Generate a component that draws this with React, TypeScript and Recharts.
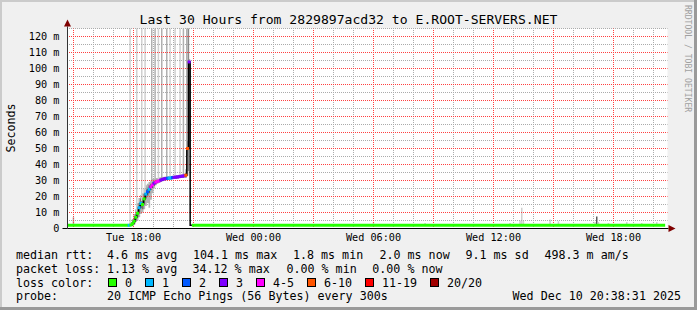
import React from "react";
import {
  ComposedChart,
  XAxis,
  YAxis,
  CartesianGrid,
  Line,
  Area,
  Bar,
  Cell,
  Scatter,
  ReferenceLine,
  ReferenceDot,
} from "recharts";

const FONT = "'DejaVu Sans Mono', 'Liberation Mono', monospace";

// ---------- time helpers ----------
const dayOffset: Record<string, number> = { Tue: 0, Wed: 24 };
const toHours = (s: string) => {
  const [d, hm] = s.split(" ");
  const [h, m] = hm.split(":").map(Number);
  return dayOffset[d] + h + m / 60;
};

// ---------- axes ----------
const X_DOMAIN: [number, number] = [14.7, 44.7]; // Tue 14:42 .. Wed 20:42
const Y_DOMAIN: [number, number] = [0, 125];
const xTicks = [18, 24, 30, 36, 42];
const xTickLabels = ["Tue 18:00", "Wed 00:00", "Wed 06:00", "Wed 12:00", "Wed 18:00"];
const yTicks = [0, 10, 20, 30, 40, 50, 60, 70, 80, 90, 100, 110, 120];
const yTickLabels = ["0", "10 m", "20 m", "30 m", "40 m", "50 m", "60 m", "70 m", "80 m", "90 m", "100 m", "110 m", "120 m"];

const range = (a: number, b: number, s: number) => {
  const out: number[] = [];
  for (let v = a; v <= b + 1e-9; v += s) out.push(v);
  return out;
};
const hourGrid = range(15, 44, 1).filter((h) => (h - 15) % 3 !== 0);
const majorHourGrid = range(15, 42, 3);
const minorMsGrid = range(5, 125, 10);
const majorMsGrid = range(10, 120, 10);

// ---------- loss colours ----------
const lossLabels = ["0", "1", "2", "3", "4-5", "6-10", "11-19", "20/20"];
const lossColors = ["#26ff00", "#00b8ff", "#0059ff", "#7e00ff", "#ff00ff", "#ff5500", "#ff0000", "#a10000"];

// ---------- flat 0%-loss median segments (ms) ----------
const greenTimesA = ["Tue 14:42", "Tue 15:30", "Tue 16:30", "Tue 17:45"];
const greenMsA = [2.0, 2.0, 2.0, 2.0];
const greenTimesB = ["Tue 20:55", "Tue 23:00", "Wed 03:00", "Wed 07:00", "Wed 11:00", "Wed 15:00", "Wed 19:00", "Wed 20:35"];
const greenMsB = [2.0, 2.0, 2.0, 2.0, 2.0, 2.0, 2.0, 2.0];

// ---------- active period (Tue), 5-minute steps ----------
const activeTimes = [
  "17:45", "17:50", "17:55", "18:00", "18:05", "18:10", "18:15", "18:20", "18:25", "18:30",
  "18:35", "18:40", "18:45", "18:50", "18:55", "19:00", "19:05", "19:10", "19:15", "19:20",
  "19:25", "19:30", "19:35", "19:40", "19:45", "19:50", "19:55", "20:00", "20:05", "20:10",
  "20:15", "20:20", "20:25", "20:30", "20:35", "20:40", "20:45", "20:50", "20:55",
];
const medianMs = [
  2.0, 2.0, 2.2, 3.0, 4.5, 7.0, 9.5, 13.0, 15.7, 15.0,
  18.5, 21.5, 23.0, 24.5, 26.0, 27.2, 28.3, 29.0, 29.5, 29.8,
  30.3, 30.7, 31.0, 31.2, 31.4, 31.5, 31.6, 31.8, 32.0, 32.1,
  32.2, 32.4, 32.6, 32.7, 32.9, 33.3, 50.0, 104.1, 2.0,
];
const lossIdx = [
  0, 1, 0, 0, 0, 0, 0, 1, 1, 0,
  0, 1, 2, 1, 4, 4, 3, 4, 4, 4,
  3, 3, 3, 3, 2, 1, 1, 2, 3, 3,
  3, 3, 3, 3, 3, 5, 5, 3, 0,
];
const smokeLo: (number | null)[] = [
  null, 1.8, 1.8, 2.0, 2.5, 4.0, 5.0, 7.0, 9.0, 10.0,
  12.0, 14.0, 16.0, 13.0, 18.0, 22.0, 25.0, 27.0, 28.0, 28.5,
  29.0, 29.5, 30.0, 30.2, 30.4, 30.5, 30.6, 30.8, 31.0, 31.1,
  31.2, 31.4, 31.6, 31.7, 31.9, 32.0, 33.0, 50.0, null,
];
const smokeHi: (number | null)[] = [
  null, 3.0, 4.0, 6.0, 9.0, 12.0, 16.0, 19.0, 21.0, 22.0,
  25.0, 27.0, 28.0, 29.0, 30.0, 31.0, 31.0, 31.5, 31.5, 31.8,
  32.0, 32.2, 32.4, 32.5, 32.6, 32.7, 32.8, 33.0, 33.2, 33.3,
  33.4, 33.6, 33.8, 34.0, 34.2, 37.0, 55.0, 106.0, null,
];
const coreSpread: (number | null)[] = [
  null, 0.4, 0.6, 1.2, 1.8, 2.2, 2.5, 2.8, 3.0, 3.0,
  3.0, 2.8, 2.5, 2.5, 2.0, 1.8, 1.5, 1.2, 1.0, 0.9,
  0.9, 0.8, 0.8, 0.8, 0.8, 0.8, 0.8, 0.8, 0.8, 0.8,
  0.8, 0.8, 0.8, 0.8, 0.8, 1.5, 5.0, null, null,
];

// ---------- individual smoke bars (ms range, shade) ----------
const barTimes = [
  "Tue 15:00",
  "Tue 17:50", "Tue 18:10", "Tue 18:25", "Tue 18:35", "Tue 18:55", "Tue 19:05", "Tue 19:15", "Tue 19:25",
  "Tue 19:40", "Tue 19:50", "Tue 20:05", "Tue 20:20", "Tue 20:30", "Tue 20:40", "Tue 20:45",
  "Wed 06:00", "Wed 08:35", "Wed 12:50", "Wed 13:20", "Wed 13:25", "Wed 13:30", "Wed 14:50", "Wed 15:15",
  "Wed 17:05", "Wed 17:10", "Wed 17:15", "Wed 17:45", "Wed 18:40", "Wed 19:25", "Wed 20:10",
];
const barLo = [
  2,
  2.5, 8, 17, 20, 27, 29, 30, 31,
  32, 32, 33, 33, 34, 34, 36,
  2, 2, 2, 2, 2, 2, 2, 2,
  2, 2, 2, 2, 2, 2, 2,
];
const barHi = [
  7,
  150, 150, 150, 150, 150, 150, 150, 150,
  150, 150, 150, 150, 150, 150, 150,
  3.8, 3.5, 3.5, 5, 13, 5, 5.6, 4.6,
  4, 7.5, 4, 3.5, 4, 3.5, 4,
];
const barShade = [
  "M",
  "L", "L", "L", "L", "M", "M", "L", "M",
  "M", "L", "L", "L", "M", "M", "D",
  "L", "L", "L", "L", "L", "L", "L", "L",
  "L", "X", "L", "L", "L", "L", "L",
];
const shadeColors: Record<string, string> = { L: "#d0d0d0", M: "#b0b0b0", D: "#8a8a8a", X: "#5a5a5a" };

// ---------- legend text ----------
const title = "Last 30 Hours from 2829897acd32 to E.ROOT-SERVERS.NET";
const rttStats = ["4.6 ms avg", "104.1 ms max", "1.8 ms min", "2.0 ms now", "9.1 ms sd", "498.3 m am/s"];
const lossStats = ["1.13 % avg", "34.12 % max", "0.00 % min", "0.00 % now"];
const probeText = "20 ICMP Echo Pings (56 Bytes) every 300s";
const stampText = "Wed Dec 10 20:38:31 2025";

// layout positions of legend pieces
const rttX = [107, 193, 293, 379.5, 465.5, 544.5];
const lossX = [107, 192.5, 286.5, 372.3];
const boxX = [108, 145, 182, 219, 256, 307, 365, 430];

// ---------- build data ----------
const rowsByT = new Map<number, any>();
const getRow = (t: number) => {
  if (!rowsByT.has(t)) rowsByT.set(t, { t });
  return rowsByT.get(t);
};
activeTimes.forEach((s, i) => {
  const r = getRow(toHours("Tue " + s));
  if (smokeLo[i] != null && smokeHi[i] != null) r.smoke = [smokeLo[i], smokeHi[i]];
  if (coreSpread[i] != null) r.core = [medianMs[i] - (coreSpread[i] as number), medianMs[i] + (coreSpread[i] as number)];
});
barTimes.forEach((s, i) => {
  const r = getRow(toHours(s));
  r.bar = [barLo[i], barHi[i]];
  r.shade = barShade[i];
});
const chartData = Array.from(rowsByT.values()).sort((a, b) => a.t - b.t);

const medRows = activeTimes.map((s, i) => ({ t: toHours("Tue " + s), med: medianMs[i], loss: lossIdx[i] }));
const markerRows = medRows.slice(1, medRows.length - 1);
const greenA = greenTimesA.map((s, i) => ({ t: toHours(s), med: greenMsA[i] }));
const greenB = greenTimesB.map((s, i) => ({ t: toHours(s), med: greenMsB[i] }));

// ---------- components ----------
const XTick = (props: any) => {
  const { x, y, payload } = props;
  const i = xTicks.indexOf(payload.value);
  return (
    <text x={x} y={y + 12.8} textAnchor="middle" fontFamily={FONT} fontSize={10.2} fill="#000">
      {xTickLabels[i]}
    </text>
  );
};
const YTick = (props: any) => {
  const { x, y, payload } = props;
  const i = yTicks.indexOf(payload.value);
  return (
    <text x={x} y={y + 3.7} textAnchor="end" fontFamily={FONT} fontSize={10.2} fill="#000">
      {yTickLabels[i]}
    </text>
  );
};
const Marker = (props: any) => {
  const { cx, cy, payload } = props;
  if (cx == null || cy == null) return null;
  return <rect x={cx - 2.5} y={cy - 1.5} width={3} height={3} fill={lossColors[payload.loss]} />;
};
const ArrowRight = (props: any) => (
  <polygon points={`${props.cx},${props.cy - 3.5} ${props.cx + 7},${props.cy} ${props.cx},${props.cy + 3.5}`} fill="#7f0000" />
);
const ArrowUp = (props: any) => (
  <polygon points={`${props.cx - 3.5},${props.cy} ${props.cx},${props.cy - 7} ${props.cx + 3.5},${props.cy}`} fill="#7f0000" />
);

const txt = (x: number, y: number, s: string, extra: any = {}) => (
  <text x={x} y={y} fontFamily={FONT} fontSize={11.67} fill="#000" style={{ whiteSpace: "pre" }} {...extra}>
    {s}
  </text>
);

const GREY = "#ababab";
const RED = "#ff4040";

export default function App() {
  return (
    <div style={{ position: "relative", width: 697, height: 310, overflow: "hidden" }}>
      <style>{"body{margin:0;}"}</style>
      <svg width={697} height={310} style={{ position: "absolute", left: 0, top: 0 }}>
        <rect x={0} y={0} width={697} height={310} fill="#f0f0f0" />
        <rect x={0} y={0} width={697} height={2} fill="#cbcbcb" />
        <rect x={0} y={0} width={2} height={310} fill="#cbcbcb" />
        <rect x={694} y={0} width={3} height={310} fill="#9a9a9a" />
        <rect x={0} y={307} width={697} height={3} fill="#9a9a9a" />
      </svg>
      <div style={{ position: "absolute", left: 0, top: 0 }}>
        <ComposedChart
          width={697}
          height={310}
          data={chartData}
          margin={{ top: 28.5, right: 29.5, bottom: 61.5, left: 0.5 }}
        >
          <XAxis
            dataKey="t"
            type="number"
            domain={X_DOMAIN}
            allowDataOverflow
            ticks={xTicks}
            interval={0}
            tick={<XTick />}
            tickLine={false}
            axisLine={false}
            tickSize={0}
            tickMargin={0}
            height={20}
          />
          <YAxis
            type="number"
            domain={Y_DOMAIN}
            allowDataOverflow
            ticks={yTicks}
            interval={0}
            tick={<YTick />}
            tickLine={false}
            axisLine={false}
            tickSize={0}
            tickMargin={8}
            width={67}
          />
          <CartesianGrid horizontal={false} vertical={false} fill="#ffffff" fillOpacity={1} />

          {minorMsGrid.map((v) => (
            <ReferenceLine key={"gy" + v} y={v} stroke={GREY} strokeDasharray="1 1" strokeDashoffset={0.5} />
          ))}
          {hourGrid.map((h) => (
            <ReferenceLine key={"gx" + h} x={h} stroke={GREY} strokeDasharray="1 1" strokeDashoffset={0.5} />
          ))}
          {majorMsGrid.map((v) => (
            <ReferenceLine key={"ry" + v} y={v} stroke={RED} strokeDasharray="1 1" strokeDashoffset={0.5} />
          ))}
          {majorHourGrid.map((h) => (
            <ReferenceLine key={"rx" + h} x={h} stroke={RED} strokeDasharray="1 1" strokeDashoffset={0.5} />
          ))}

          <Bar dataKey="bar" barSize={2} isAnimationActive={false}>
            {chartData.map((r, i) => (
              <Cell key={i} fill={r.shade ? shadeColors[r.shade] : "none"} />
            ))}
          </Bar>
          <Area
            dataKey="smoke"
            type="stepBefore"
            stroke="none"
            fill="#b4b4b4"
            fillOpacity={1}
            isAnimationActive={false}
            dot={false}
            activeDot={false}
          />
          <Area
            dataKey="core"
            type="stepBefore"
            stroke="none"
            fill="#707070"
            fillOpacity={1}
            isAnimationActive={false}
            dot={false}
            activeDot={false}
          />
          <Line
            data={greenA}
            dataKey="med"
            type="stepBefore"
            stroke={lossColors[0]}
            strokeWidth={3}
            dot={false}
            activeDot={false}
            isAnimationActive={false}
          />
          <Line
            data={greenB}
            dataKey="med"
            type="stepBefore"
            stroke={lossColors[0]}
            strokeWidth={3}
            dot={false}
            activeDot={false}
            isAnimationActive={false}
          />
          <Line
            data={medRows}
            dataKey="med"
            type="stepBefore"
            stroke="#000"
            strokeWidth={1.5}
            dot={false}
            activeDot={false}
            isAnimationActive={false}
          />
          <Scatter data={markerRows} dataKey="med" shape={<Marker />} isAnimationActive={false} />

          <ReferenceLine
            segment={[{ x: 14.45, y: 0 }, { x: 44.75, y: 0 }]}
            stroke="#000"
            strokeWidth={1}
            ifOverflow="visible"
          />
          <ReferenceLine
            segment={[{ x: 14.7, y: -0.3 }, { x: 14.7, y: 126.3 }]}
            stroke="#333"
            strokeWidth={1}
            ifOverflow="visible"
          />
          <ReferenceDot x={44.75} y={0} ifOverflow="visible" shape={<ArrowRight />} />
          <ReferenceDot x={14.7} y={126.3} ifOverflow="visible" shape={<ArrowUp />} />
        </ComposedChart>
      </div>
      <svg width={697} height={310} style={{ position: "absolute", left: 0, top: 0, pointerEvents: "none" }}>
        <text x={348.5} y={24} textAnchor="middle" fontFamily={FONT} fontSize={13.1} fill="#000">
          {title}
        </text>
        <text transform="translate(14.5,128) rotate(-90)" textAnchor="middle" fontFamily={FONT} fontSize={11.67} fill="#000">
          Seconds
        </text>
        <text transform="translate(685,5) rotate(90)" fontFamily={FONT} fontSize={8.1} fill="#a0a0a0">
          RRDTOOL / TOBI OETIKER
        </text>

        {txt(16, 258.5, "median rtt:")}
        {rttStats.map((s, i) => <React.Fragment key={"r" + i}>{txt(rttX[i], 258.5, s)}</React.Fragment>)}

        {txt(16, 272.5, "packet loss:")}
        {lossStats.map((s, i) => <React.Fragment key={"l" + i}>{txt(lossX[i], 272.5, s)}</React.Fragment>)}

        {txt(16, 286.5, "loss color:")}
        {lossLabels.map((s, i) => (
          <React.Fragment key={"c" + i}>
            <rect x={boxX[i] + 0.5} y={278.5} width={8} height={8} fill={lossColors[i]} stroke="#000" strokeWidth={1} />
            {txt(boxX[i] + 17, 286.5, s)}
          </React.Fragment>
        ))}

        {txt(16, 300.3, "probe:")}
        {txt(107, 300.3, probeText)}
        {txt(681, 300.3, stampText, { textAnchor: "end" })}
      </svg>
    </div>
  );
}
